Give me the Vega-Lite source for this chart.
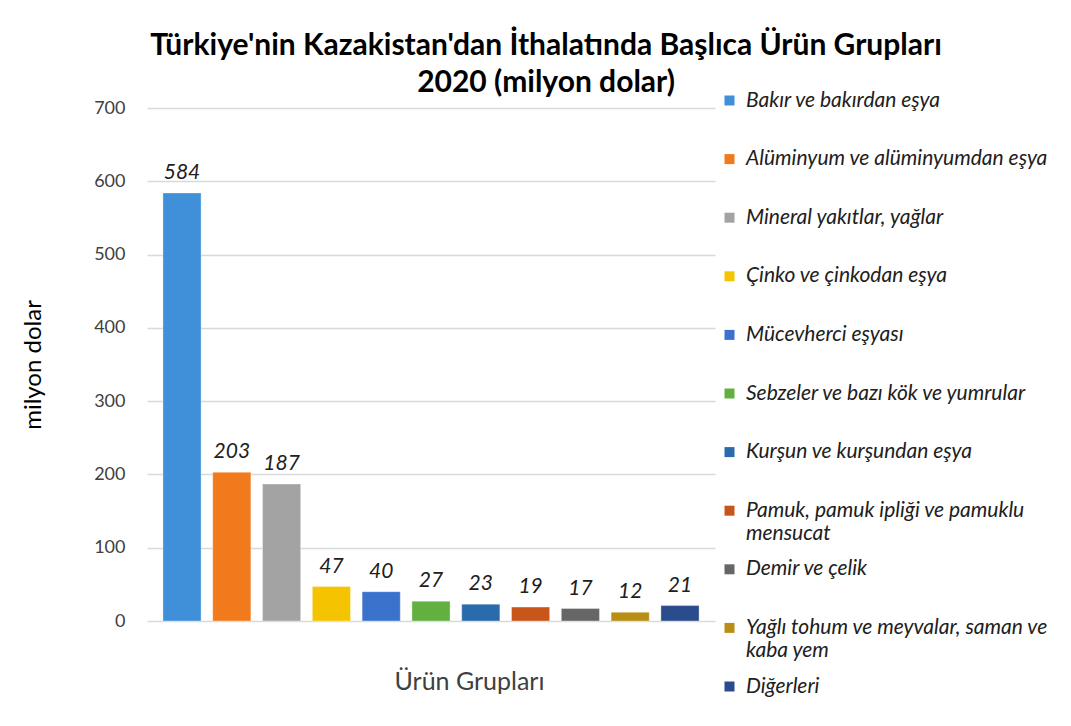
{
  "$schema": "https://vega.github.io/schema/vega-lite/v6.json",
  "width": 568,
  "height": 513,
  "autosize": {"type": "none"},
  "padding": {"left": 147, "top": 108, "right": 356, "bottom": 105},
  "background": "white",
  "config": {
    "font": "Lato",
    "view": {"stroke": null}
  },
  "title": {
    "text": ["Türkiye'nin Kazakistan'dan İthalatında Başlıca Ürün Grupları", "2020 (milyon dolar)"],
    "font": "Lato",
    "fontSize": 30,
    "fontWeight": "bold",
    "color": "#000000",
    "anchor": "middle",
    "dx": 115,
    "offset": -8,
    "lineHeight": 37
  },
  "data": {
    "values": [
      {"urun": "Bakır ve bakırdan eşya", "deger": 584},
      {"urun": "Alüminyum ve alüminyumdan eşya", "deger": 203},
      {"urun": "Mineral yakıtlar, yağlar", "deger": 187},
      {"urun": "Çinko ve çinkodan eşya", "deger": 47},
      {"urun": "Mücevherci eşyası", "deger": 40},
      {"urun": "Sebzeler ve bazı kök ve yumrular", "deger": 27},
      {"urun": "Kurşun ve kurşundan eşya", "deger": 23},
      {"urun": "Pamuk, pamuk ipliği ve pamuklu mensucat", "deger": 19},
      {"urun": "Demir ve çelik", "deger": 17},
      {"urun": "Yağlı tohum ve meyvalar, saman ve kaba yem", "deger": 12},
      {"urun": "Diğerleri", "deger": 21}
    ]
  },
  "encoding": {
    "x": {
      "field": "urun",
      "type": "nominal",
      "sort": null,
      "scale": {"paddingInner": 0.234, "paddingOuter": 0.32},
      "axis": {
        "title": "Ürün Grupları",
        "labels": false,
        "ticks": false,
        "domain": false,
        "titleFont": "Lato",
        "titleFontSize": 25,
        "titleFontWeight": "normal",
        "titleColor": "#404040",
        "titleX": 322,
        "titleY": 48,
        "titleAlign": "center",
        "titleBaseline": "top"
      }
    },
    "y": {
      "field": "deger",
      "type": "quantitative",
      "scale": {"domain": [0, 700]},
      "axis": {
        "title": "milyon dolar",
        "values": [0, 100, 200, 300, 400, 500, 600, 700],
        "ticks": false,
        "domain": false,
        "gridColor": "#d9d9d9",
        "gridWidth": 1.5,
        "labelFont": "Lato",
        "labelFontSize": 18,
        "labelColor": "#404040",
        "labelPadding": 22,
        "titleFont": "Lato",
        "titleFontSize": 24,
        "titleFontWeight": "normal",
        "titleColor": "#000000",
        "titlePadding": 48
      }
    }
  },
  "layer": [
    {
      "mark": {"type": "bar", "stroke": "#ffffff", "strokeOpacity": 0.35, "strokeWidth": 1},
      "encoding": {
        "color": {
          "field": "urun",
          "type": "nominal",
          "sort": null,
          "scale": {
            "range": ["#3f8fd9", "#f07a1c", "#a3a3a3", "#f5c400", "#3a72cc", "#62b140", "#2a6bab", "#c8561a", "#666666", "#b88e17", "#2a4b8c"]
          },
          "legend": {
            "orient": "none",
            "legendX": 572,
            "legendY": -18,
            "title": null,
            "symbolType": "square",
            "symbolSize": 100,
            "symbolStrokeWidth": 0,
            "labelFont": "Lato",
            "labelFontSize": 21,
            "labelFontStyle": "italic",
            "labelColor": "#202020",
            "labelLimit": 400,
            "labelOffset": 6,
            "rowPadding": 13.6,
            "labelExpr": "datum.label == 'Pamuk, pamuk ipliği ve pamuklu mensucat' ? ['Pamuk, pamuk ipliği ve pamuklu', 'mensucat'] : datum.label == 'Yağlı tohum ve meyvalar, saman ve kaba yem' ? ['Yağlı tohum ve meyvalar, saman ve', 'kaba yem'] : [datum.label, '']"
          }
        }
      }
    },
    {
      "mark": {"type": "text", "dy": -10, "baseline": "bottom", "font": "Lato", "fontSize": 21, "fontStyle": "italic", "color": "#202020"},
      "encoding": {
        "text": {"field": "deger", "type": "quantitative"}
      }
    }
  ]
}
